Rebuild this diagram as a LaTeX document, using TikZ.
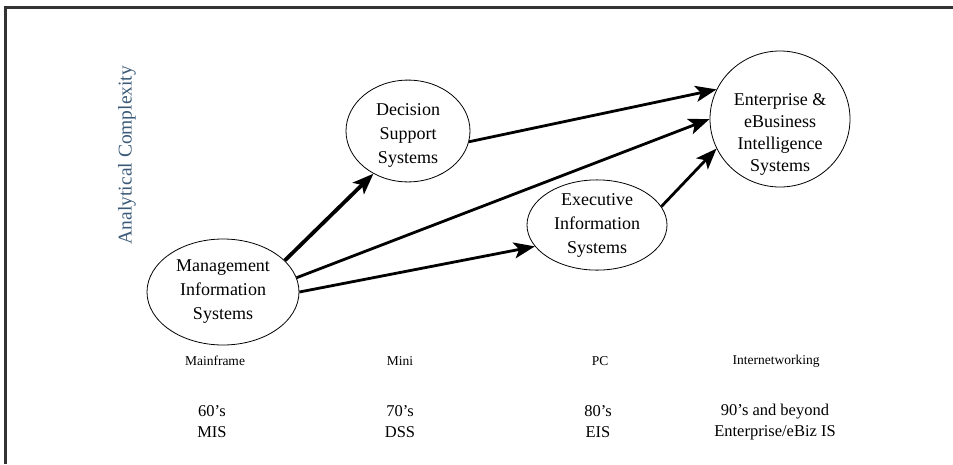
\documentclass[tikz,border=0pt]{standalone}
\usepackage{fontspec}
\setmainfont{Liberation Serif}
\usetikzlibrary{shapes.geometric,arrows.meta}
\definecolor{axisblue}{HTML}{3A5A78}
\definecolor{framegray}{HTML}{333333}
\tikzset{
  era/.style={ellipse, draw, line width=0.8pt, inner sep=0pt, align=center,
    font=\fontsize{18}{24}\selectfont},
  flow/.style={line width=2.8pt, -{Stealth[length=21pt,width=16pt,inset=5pt]}},
  bold flow/.style={flow, line width=3.8pt},
  platform/.style={font=\fontsize{13.5}{15}\selectfont},
  period/.style={font=\fontsize{16.5}{21}\selectfont, align=center},
}
% lowers a centred stack of lines without changing the node's size
\newcommand{\lowerstack}[2]{\raisebox{-#1}[\height][\depth]{\begin{tabular}{@{}c@{}}#2\end{tabular}}}
\begin{document}
\begin{tikzpicture}[x=1pt,y=-1pt]
  \useasboundingbox (0,0) rectangle (953,464);
  % outer frame: left and top edges only
  \draw[framegray, line width=3pt] (5,464) -- (5,7) -- (953,7);

  % vertical axis caption
  \node[rotate=90, text=axisblue, font=\fontsize{19.5}{22}\selectfont] (axis) at (127,155) {Analytical Complexity};

  % generations of systems
  \node[era, minimum width=152pt, minimum height=106pt] (mis) at (223,292)
    {Management\\Information\\Systems};
  \node[era, minimum width=124pt, minimum height=92pt] (dss) at (408,131)
    {\lowerstack{4pt}{Decision\\Support\\Systems}};
  \node[era, minimum width=140pt, minimum height=90pt] (eis) at (597,225)
    {Executive\\Information\\Systems};
  \node[era, minimum width=140pt, minimum height=136pt,
        font=\fontsize{18}{22}\selectfont] (ebi) at (780,119)
    {\lowerstack{15pt}{Enterprise \&\\eBusiness\\Intelligence\\Systems}};

  % evolution paths
  \draw[bold flow] (mis.27) -- (dss.231);
  \draw[flow] (mis.11) -- (ebi.180);
  \draw[flow] (mis.0) -- (eis.199);
  \draw[flow] (dss.-10) -- (ebi.155);
  \draw[flow] (eis.16) -- (ebi.205);

  % platforms
  \node[platform] (p1) at (215,361) {Mainframe};
  \node[platform] (p2) at (400,361) {Mini};
  \node[platform] (p3) at (600,361) {PC};
  \node[platform] (p4) at (776,361) {Internetworking};

  % decades and system types
  \node[period] (d1) at (212,422) {60’s\\MIS};
  \node[period] (d2) at (400,422) {70’s\\DSS};
  \node[period] (d3) at (598,422) {80’s\\EIS};
  \node[period] (d4) at (775,422) {90’s and beyond\\Enterprise/eBiz IS};
\end{tikzpicture}
\end{document}
